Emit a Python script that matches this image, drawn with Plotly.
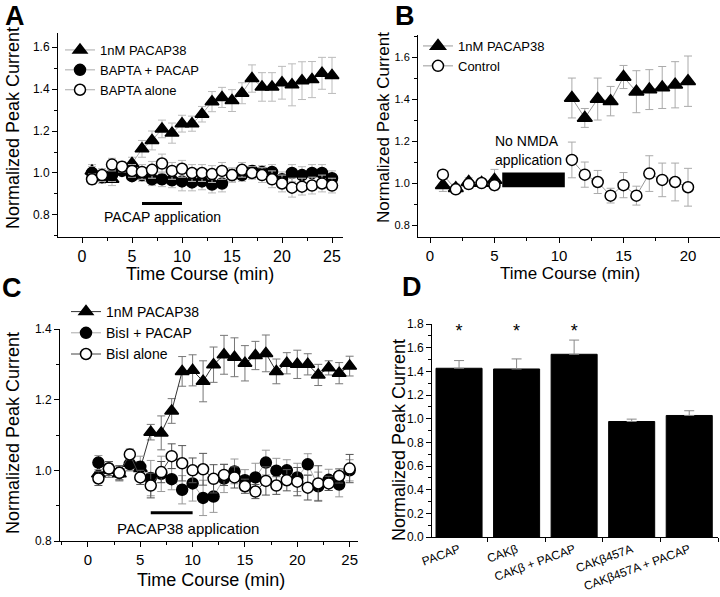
import plotly.graph_objects as go

FONT = "Liberation Sans, Arial, sans-serif"

# ---------------- Panel A data ----------------
tA = list(range(1, 26))
A_pacap = [1.01, 0.99, 0.97, 1.02, 1.045, 1.115, 1.155, 1.21, 1.19, 1.235, 1.235, 1.28, 1.34, 1.36, 1.345,
           1.38, 1.45, 1.41, 1.41, 1.43, 1.42, 1.44, 1.445, 1.475, 1.465]
A_pacap_err = [0.03, 0.03, 0.03, 0.02, 0.03, 0.04, 0.045, 0.042, 0.048, 0.04, 0.036, 0.037, 0.048, 0.048, 0.052,
               0.05, 0.065, 0.068, 0.068, 0.078, 0.1, 0.09, 0.086, 0.076, 0.086]
A_bapta_pacap = [1.0, 0.98, 0.99, 1.01, 0.985, 0.99, 0.97, 0.97, 0.965, 0.96, 0.955, 0.96, 0.945, 0.95, 0.99,
                 0.99, 1.01, 1.005, 1.005, 0.97, 1.0, 0.99, 1.0, 1.0, 0.975]
A_bapta_pacap_err = [0.03, 0.03, 0.03, 0.02, 0.02, 0.03, 0.03, 0.035, 0.035, 0.045, 0.04, 0.04, 0.04, 0.04, 0.03,
                     0.03, 0.025, 0.03, 0.035, 0.035, 0.04, 0.04, 0.04, 0.04, 0.035]
A_bapta_alone = [0.97, 0.99, 1.04, 1.03, 1.01, 1.005, 1.015, 1.045, 1.01, 1.02, 1.0, 1.0, 0.995, 1.01, 0.99,
                 1.015, 1.0, 0.99, 0.97, 0.95, 0.93, 0.935, 0.94, 0.95, 0.94]
A_bapta_alone_err = [0.025, 0.03, 0.03, 0.025, 0.03, 0.035, 0.04, 0.045, 0.04, 0.04, 0.04, 0.04, 0.04, 0.04, 0.035,
                     0.035, 0.03, 0.035, 0.04, 0.04, 0.045, 0.04, 0.04, 0.04, 0.035]
A_app = [6, 10]          # PACAP application period (min)
A_app_level = 0.855

# ---------------- Panel B data ----------------
tB = list(range(1, 21))
B_pacap = [0.99, 0.975, 1.005, 1.0, 1.015, None, None, None, None, None,
           1.405, 1.31, 1.40, 1.39, 1.505, 1.435, 1.445, 1.455, 1.468, 1.485]
B_pacap_err = [0.03, 0.02, 0.02, 0.015, 0.05, None, None, None, None, None,
               0.095, 0.045, 0.1, 0.07, 0.055, 0.1, 0.095, 0.1, 0.11, 0.12]
B_control = [1.04, 0.97, 0.995, 1.0, 0.99, None, None, None, None, None,
             1.11, 1.04, 1.005, 0.94, 0.99, 0.94, 1.045, 1.015, 1.005, 0.98]
B_control_err = [0.02, 0.02, 0.02, 0.015, 0.02, None, None, None, None, None,
                 0.085, 0.06, 0.055, 0.035, 0.06, 0.045, 0.085, 0.08, 0.09, 0.09]
B_block_x = [5.6, 10.45]
B_block_y = [0.98, 1.05]

# ---------------- Panel C data ----------------
tC = list(range(1, 26))
C_pacap = [0.99, 1.0, 0.99, 1.02, 1.005, 1.108, 1.106, 1.168, 1.28, 1.283, 1.252, 1.299, 1.327, 1.32, 1.303,
           1.325, 1.331, 1.28, 1.303, 1.30, 1.30, 1.27, 1.29, 1.275, 1.295]
C_pacap_err = [0.02, 0.02, 0.02, 0.02, 0.02, 0.022, 0.048, 0.035, 0.042, 0.044, 0.058, 0.05, 0.055, 0.055, 0.05,
               0.04, 0.052, 0.035, 0.03, 0.04, 0.03, 0.03, 0.02, 0.03, 0.028]
C_bisi_pacap = [1.022, 1.005, 0.993, 1.018, 1.01, 0.978, 0.99, 0.975, 0.945, 0.963, 0.922, 0.926, 0.977, 0.997, 0.972,
                0.98, 1.022, 0.999, 1.0, 0.98, 1.017, 0.955, 0.973, 0.96, 1.0]
C_bisi_pacap_err = [0.02, 0.02, 0.02, 0.02, 0.03, 0.05, 0.05, 0.03, 0.04, 0.05, 0.05, 0.045, 0.04, 0.035, 0.03,
                    0.04, 0.035, 0.035, 0.03, 0.04, 0.03, 0.04, 0.03, 0.035, 0.03]
C_bisi_alone = [0.977, 1.005, 0.993, 1.045, 0.98, 0.957, 0.995, 1.04, 1.02, 1.0, 1.003, 0.976, 0.987, 0.98, 0.955,
                0.94, 0.97, 0.957, 0.972, 0.968, 0.951, 0.963, 0.963, 0.984, 1.005]
C_bisi_alone_err = [0.02, 0.02, 0.02, 0.015, 0.02, 0.035, 0.03, 0.035, 0.05, 0.035, 0.045, 0.04, 0.03, 0.03, 0.02,
                    0.02, 0.04, 0.025, 0.03, 0.04, 0.035, 0.05, 0.02, 0.02, 0.04]
C_app = [6, 10]
C_app_level = 0.88

# ---------------- Panel D data ----------------
D_labels = ["PACAP", "CAKβ", "CAKβ + PACAP", "CAKβ457A", "CAKβ457A + PACAP"]
D_values = [1.426, 1.42, 1.544, 0.976, 1.027]
D_err = [0.065, 0.085, 0.12, 0.02, 0.04]
D_star = ["*", "*", "*", "", ""]
D_star_y = 1.73

fig = go.Figure()


def series(x, y, err, name, symbol, fill, line_color, err_color, xa, ya, legend, size=11):
    fig.add_trace(go.Scatter(
        x=x, y=y, name=name, mode="lines+markers",
        line=dict(color=line_color, width=1),
        marker=dict(symbol=symbol, size=size, color=fill, line=dict(color="black", width=1.5)),
        error_y=dict(type="data", array=err, color=err_color, thickness=1, width=4),
        xaxis=xa, yaxis=ya, legend=legend, connectgaps=False,
    ))


# Panel A
series(tA, A_pacap, A_pacap_err, "1nM PACAP38", "triangle-up", "black", "#aaaaaa", "#bbbbbb", "x", "y", "legend", 12)
series(tA, A_bapta_pacap, A_bapta_pacap_err, "BAPTA + PACAP", "circle", "black", "#aaaaaa", "#bbbbbb", "x", "y", "legend", 11)
series(tA, A_bapta_alone, A_bapta_alone_err, "BAPTA alone", "circle", "white", "#aaaaaa", "#bbbbbb", "x", "y", "legend", 11)

# Panel B
series(tB, B_pacap, B_pacap_err, "1nM PACAP38", "triangle-up", "black", "#999999", "#aaaaaa", "x2", "y2", "legend2", 13)
series(tB, B_control, B_control_err, "Control", "circle", "white", "#999999", "#aaaaaa", "x2", "y2", "legend2", 11)

# Panel C
series(tC, C_pacap, C_pacap_err, "1nM PACAP38", "triangle-up", "black", "#333333", "#777777", "x3", "y3", "legend3", 12)
series(tC, C_bisi_pacap, C_bisi_pacap_err, "BisI + PACAP", "circle", "black", "#aaaaaa", "#999999", "x3", "y3", "legend3", 11)
series(tC, C_bisi_alone, C_bisi_alone_err, "BisI alone", "circle", "white", "#444444", "#555555", "x3", "y3", "legend3", 11)

# Panel D
fig.add_trace(go.Bar(
    x=D_labels, y=D_values, marker=dict(color="black", line=dict(color="black", width=1)),
    error_y=dict(type="data", array=D_err, arrayminus=[0] * len(D_err), symmetric=False,
                 color="#888888", thickness=1, width=5),
    showlegend=False, xaxis="x4", yaxis="y4",
))
fig.add_trace(go.Scatter(
    x=D_labels, y=[D_star_y] * len(D_labels), mode="text", text=D_star,
    textfont=dict(size=18, family=FONT, color="black"), showlegend=False, xaxis="x4", yaxis="y4",
))

# shapes: application bars / blocks
fig.add_shape(type="line", xref="x", yref="y", x0=A_app[0], x1=A_app[1], y0=A_app_level, y1=A_app_level,
              line=dict(color="black", width=3))
fig.add_shape(type="line", xref="x3", yref="y3", x0=C_app[0], x1=C_app[1], y0=C_app_level, y1=C_app_level,
              line=dict(color="black", width=3))
fig.add_shape(type="rect", xref="x2", yref="y2", x0=B_block_x[0], x1=B_block_x[1], y0=B_block_y[0], y1=B_block_y[1],
              fillcolor="black", line=dict(color="black", width=0))


def axis(domain, rng, dtick, minor, tick_size, anchor, fmt=None):
    d = dict(domain=domain, range=rng, anchor=anchor, showline=True, linecolor="black", linewidth=1,
             ticks="outside", ticklen=5, tickcolor="black", tickwidth=1, showgrid=False, zeroline=False,
             automargin=False, dtick=dtick, tick0=0, tickfont=dict(family=FONT, size=tick_size, color="black"),
             minor=dict(ticks="outside", ticklen=3, tickcolor="black", dtick=minor, showgrid=False))
    if fmt:
        d["tickformat"] = fmt
    return d


W, H = 720, 597


def px(x):
    return x / W


def py(y):
    return 1 - y / H


fig.update_layout(
    template="none",
    width=W, height=H, margin=dict(l=0, r=0, t=0, b=0, autoexpand=False),
    paper_bgcolor="white", plot_bgcolor="white",
    font=dict(family=FONT, color="black"),
    xaxis=axis([px(58), px(343)], [-2.4, 26.1], 5, 2.5, 16, "y"),
    yaxis=axis([py(237), py(33)], [0.695, 1.667], 0.2, 0.1, 12, "x", ".1f"),
    xaxis2=axis([px(418), px(720)], [-0.93, 22.48], 5, 2.5, 15, "y2"),
    yaxis2=axis([py(237), py(35)], [0.743, 1.705], 0.2, 0.1, 11, "x2", ".1f"),
    xaxis3=axis([px(60), px(358)], [-2.67, 25.8], 5, 2.5, 15, "y3"),
    yaxis3=axis([py(541), py(329)], [0.8, 1.4], 0.2, 0.1, 12, "x3", ".1f"),
    xaxis4=dict(domain=[px(432), px(718)], range=[-0.47, 4.5], anchor="y4", showline=True, linecolor="black",
                linewidth=1, ticks="outside", tickson="boundaries", ticklen=4, tickcolor="black",
                showgrid=False, zeroline=False, tickangle=-20, automargin=False,
                tickfont=dict(family=FONT, size=12, color="black")),
    yaxis4=axis([py(537), py(324)], [0, 1.8], 0.2, 0.1, 12, "x4", ".1f"),
    bargap=0.2,
    legend=dict(x=px(60), y=py(35), xanchor="left", yanchor="top", bgcolor="rgba(0,0,0,0)",
                font=dict(family=FONT, size=13, color="black"), tracegroupgap=0),
    legend2=dict(x=px(418), y=py(31), xanchor="left", yanchor="top", bgcolor="rgba(0,0,0,0)",
                 font=dict(family=FONT, size=13, color="black"), tracegroupgap=0),
    legend3=dict(x=px(66), y=py(296), xanchor="left", yanchor="top", bgcolor="rgba(0,0,0,0)",
                 font=dict(family=FONT, size=14, color="black"), tracegroupgap=0),
)

ann = []


def text(x, y, s, size, angle=0, bold=False, xref="paper", yref="paper", xanchor="center"):
    ann.append(dict(x=x, y=y, xref=xref, yref=yref, text=("<b>%s</b>" % s) if bold else s, showarrow=False,
                    textangle=angle, xanchor=xanchor, yanchor="middle",
                    font=dict(family=FONT, size=size, color="black")))


# axis titles
text(px(13), py(128), "Normalized Peak Current", 18, -90)
text(px(200), py(274), "Time Course (min)", 18)
text(px(383), py(128), "Normalized Peak Current", 17, -90)
text(px(570), py(273), "Time Course (min)", 17)
text(px(13), py(433), "Normalized Peak Current", 18, -90)
text(px(211), py(580), "Time Course (min)", 18)
text(px(399), py(440), "Normalized Peak Current", 18, -90)

# panel letters
text(px(15), py(16), "A", 27, bold=True)
text(px(405), py(16), "B", 27, bold=True)
text(px(12), py(288), "C", 27, bold=True)
text(px(412), py(287), "D", 27, bold=True)

# in-plot labels
text(8, 0.79, "PACAP application", 14, xref="x", yref="y")
text(9.6, 0.836, "PACAP38 application", 15, xref="x3", yref="y3")
text(7.5, 1.2, "No NMDA", 14, xref="x2", yref="y2")
text(7.6, 1.11, "application", 14, xref="x2", yref="y2")

fig.update_layout(annotations=ann)
fig.write_html("out.html", config={"displayModeBar": False},
               post_script="document.body.style.margin='0';document.body.style.overflow='hidden';")
